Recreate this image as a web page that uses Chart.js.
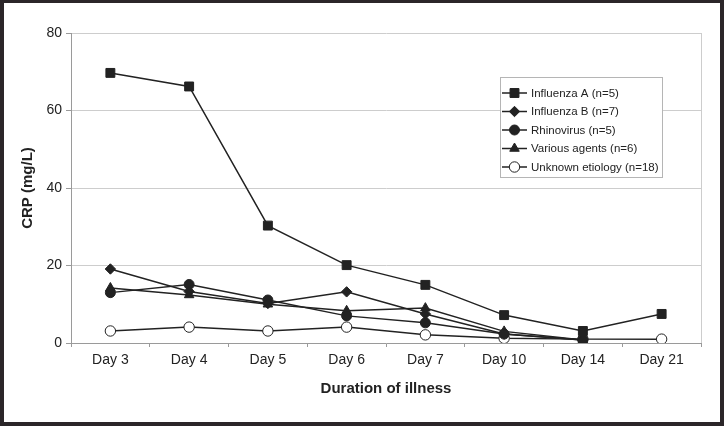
<!DOCTYPE html>
<html>
<head>
<meta charset="utf-8">
<script src="https://cdn.jsdelivr.net/npm/chart.js@4"></script>
<style>
    body { margin: 0; background: #2b2629; width: 724px; height: 426px; overflow: hidden; }
    #wrap { position: absolute; left: 4px; top: 3px; width: 716px; height: 419px; background: #fff; }
</style>
</head>
<body>
<div id="wrap"><canvas id="crp" width="716" height="419"></canvas></div>
<script>
// Data
const days = ['Day 3', 'Day 4', 'Day 5', 'Day 6', 'Day 7', 'Day 10', 'Day 14', 'Day 21'];
const influenzaA = [69.7, 66.2, 30.3, 20.1, 15.0, 7.2, 3.1, 7.5];
const influenzaB = [19.1, 13.3, 10.2, 13.2, 7.5, 2.3, 0.8, null];
const rhinovirus = [13.0, 15.1, 11.1, 7.0, 5.2, 2.3, 0.8, null];
const variousAgents = [14.2, 12.4, 10.0, 8.3, 9.0, 3.0, 0.8, null];
const unknownEtiology = [3.1, 4.1, 3.1, 4.1, 2.1, 1.2, 1.0, 1.0];
const yTicks = [0, 20, 40, 60, 80];

const ink = '#222222';
const gridColor = '#cdcdcd';
const fontFamily = "'Liberation Sans', Arial, sans-serif";

function series(label, data, style, radius, fill) {
    return {
        label: label,
        data: data,
        borderColor: ink,
        borderWidth: 1.5,
        backgroundColor: fill,
        pointStyle: style,
        pointRadius: radius,
        pointBackgroundColor: fill,
        pointBorderColor: ink,
        pointBorderWidth: 1,
        tension: 0,
        spanGaps: false
    };
}

// Legend box drawn inside the plot, plus the right frame line
const boxLegend = {
    id: 'boxLegend',
    afterDraw(chart) {
        const ctx = chart.ctx;
        const area = chart.chartArea;
        ctx.save();
        ctx.strokeStyle = gridColor;
        ctx.lineWidth = 1;
        ctx.beginPath();
        ctx.moveTo(Math.round(area.right) + 0.5, area.top);
        ctx.lineTo(Math.round(area.right) + 0.5, area.bottom);
        ctx.stroke();

        const bx = 496, by = 74, bw = 162, bh = 100;
        ctx.fillStyle = '#fff';
        ctx.fillRect(bx, by, bw, bh);
        ctx.strokeStyle = '#b5b5b5';
        ctx.strokeRect(bx + 0.5, by + 0.5, bw, bh);
        ctx.font = '11.5px ' + fontFamily;
        ctx.textBaseline = 'middle';
        chart.data.datasets.forEach((ds, i) => {
            const y = by + 16 + i * 18.5;
            ctx.strokeStyle = ink;
            ctx.lineWidth = 1.5;
            ctx.beginPath();
            ctx.moveTo(bx + 2, y);
            ctx.lineTo(bx + 27, y);
            ctx.stroke();
            ctx.fillStyle = ds.pointBackgroundColor;
            ctx.strokeStyle = ink;
            ctx.lineWidth = 1;
            Chart.helpers.drawPoint(ctx, {
                pointStyle: ds.pointStyle,
                radius: ds.pointRadius,
                borderWidth: 1
            }, bx + 14.5, y);
            ctx.fillStyle = ink;
            ctx.fillText(ds.label, bx + 31, y + 0.5);
        });
        ctx.restore();
    }
};

new Chart(document.getElementById('crp').getContext('2d'), {
    type: 'line',
    data: {
        labels: days,
        datasets: [
            series('Influenza A (n=5)', influenzaA, 'rect', 6.3, ink),
            series('Influenza B (n=7)', influenzaB, 'rectRot', 5.2, ink),
            series('Rhinovirus (n=5)', rhinovirus, 'circle', 5, ink),
            series('Various agents (n=6)', variousAgents, 'triangle', 5.5, ink),
            series('Unknown etiology (n=18)', unknownEtiology, 'circle', 5.2, '#ffffff')
        ]
    },
    options: {
        responsive: false,
        animation: false,
        layout: {
            padding: { top: 30, right: 19, left: 0, bottom: 0 }
        },
        plugins: {
            legend: { display: false },
            tooltip: { enabled: false }
        },
        scales: {
            x: {
                offset: true,
                grid: {
                    offset: true,
                    drawOnChartArea: false,
                    drawTicks: true,
                    tickLength: 4,
                    tickColor: '#9a9a9a'
                },
                border: { color: '#9a9a9a' },
                ticks: {
                    color: ink,
                    padding: 5,
                    maxRotation: 0,
                    font: { family: fontFamily, size: 14 }
                },
                title: {
                    display: true,
                    text: 'Duration of illness',
                    color: ink,
                    padding: { top: 0, bottom: 24 },
                    font: { family: fontFamily, size: 15, weight: 'bold' }
                },
                afterFit: s => { s.height = 79; }
            },
            y: {
                min: 0,
                max: 80,
                afterBuildTicks: s => { s.ticks = yTicks.map(v => ({ value: v })); },
                grid: {
                    color: gridColor,
                    tickColor: '#9a9a9a',
                    tickLength: 5
                },
                border: { color: '#9a9a9a' },
                ticks: {
                    color: ink,
                    padding: 4,
                    font: { family: fontFamily, size: 14 }
                },
                title: {
                    display: true,
                    text: 'CRP (mg/L)',
                    color: ink,
                    padding: { top: 15, bottom: 0 },
                    font: { family: fontFamily, size: 15, weight: 'bold' }
                },
                afterFit: s => { s.width = 67; }
            }
        }
    },
    plugins: [boxLegend]
});
</script>
</body>
</html>
